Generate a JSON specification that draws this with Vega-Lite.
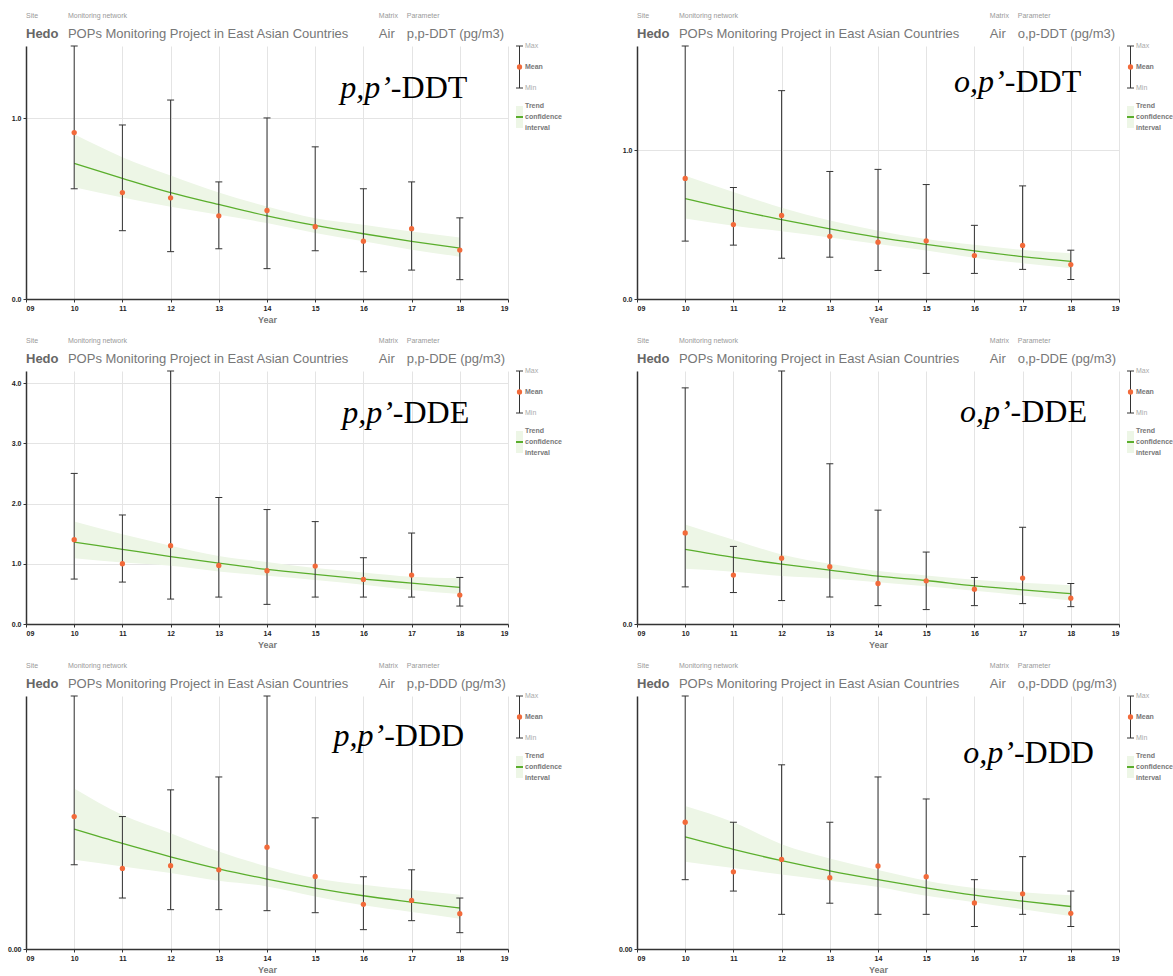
{
"$schema": "https://vega.github.io/schema/vega-lite/v6.json",
"padding": {"left": 7, "top": 12, "right": 0, "bottom": 0},
"background": "white",
"config": {
 "font": "Liberation Sans",
 "view": {"stroke": null},
 "axis": {"labelFontWeight": "bold", "labelFontSize": 7, "labelColor": "#222", "domainColor": "#333", "domainWidth": 1.5, "tickColor": "#333", "tickSize": 3, "gridColor": "#e4e4e4", "gridWidth": 1, "labelPadding": 2},
 "axisX": {"titleFontSize": 9, "titleFontWeight": "bold", "titleColor": "#777", "titlePadding": 4, "labelFlush": true}
},
"datasets": {
 "ppDDT": [
  {"year":10,"min":0.610,"mean":0.921,"max":1.40,"trend":0.751,"lo":0.619,"hi":0.911},
  {"year":11,"min":0.378,"mean":0.589,"max":0.963,"trend":0.668,"lo":0.562,"hi":0.785},
  {"year":12,"min":0.262,"mean":0.560,"max":1.101,"trend":0.589,"lo":0.510,"hi":0.683},
  {"year":13,"min":0.278,"mean":0.460,"max":0.648,"trend":0.523,"lo":0.466,"hi":0.589},
  {"year":14,"min":0.168,"mean":0.490,"max":1.002,"trend":0.460,"lo":0.420,"hi":0.512},
  {"year":15,"min":0.267,"mean":0.400,"max":0.842,"trend":0.407,"lo":0.365,"hi":0.447},
  {"year":16,"min":0.151,"mean":0.320,"max":0.610,"trend":0.361,"lo":0.319,"hi":0.411},
  {"year":17,"min":0.160,"mean":0.389,"max":0.648,"trend":0.319,"lo":0.273,"hi":0.374},
  {"year":18,"min":0.107,"mean":0.271,"max":0.449,"trend":0.282,"lo":0.234,"hi":0.341}
 ],
 "opDDT": [
  {"year":10,"min":0.389,"mean":0.810,"max":1.70,"trend":0.674,"lo":0.541,"hi":0.828},
  {"year":11,"min":0.362,"mean":0.500,"max":0.749,"trend":0.600,"lo":0.493,"hi":0.719},
  {"year":12,"min":0.274,"mean":0.561,"max":1.400,"trend":0.534,"lo":0.455,"hi":0.613},
  {"year":13,"min":0.281,"mean":0.421,"max":0.857,"trend":0.471,"lo":0.414,"hi":0.527},
  {"year":14,"min":0.192,"mean":0.382,"max":0.871,"trend":0.414,"lo":0.369,"hi":0.459},
  {"year":15,"min":0.172,"mean":0.391,"max":0.769,"trend":0.367,"lo":0.326,"hi":0.403},
  {"year":16,"min":0.172,"mean":0.292,"max":0.495,"trend":0.324,"lo":0.278,"hi":0.364},
  {"year":17,"min":0.199,"mean":0.360,"max":0.760,"trend":0.285,"lo":0.240,"hi":0.330},
  {"year":18,"min":0.131,"mean":0.231,"max":0.328,"trend":0.253,"lo":0.206,"hi":0.308}
 ],
 "ppDDE": [
  {"year":10,"min":0.746,"mean":1.40,"max":2.50,"trend":1.36,"lo":1.09,"hi":1.70},
  {"year":11,"min":0.696,"mean":1.00,"max":1.81,"trend":1.24,"lo":1.02,"hi":1.49},
  {"year":12,"min":0.414,"mean":1.30,"max":4.20,"trend":1.12,"lo":0.967,"hi":1.30},
  {"year":13,"min":0.447,"mean":0.972,"max":2.10,"trend":1.01,"lo":0.873,"hi":1.13},
  {"year":14,"min":0.326,"mean":0.884,"max":1.90,"trend":0.906,"lo":0.800,"hi":1.03},
  {"year":15,"min":0.447,"mean":0.961,"max":1.70,"trend":0.823,"lo":0.729,"hi":0.928},
  {"year":16,"min":0.447,"mean":0.740,"max":1.10,"trend":0.746,"lo":0.652,"hi":0.856},
  {"year":17,"min":0.447,"mean":0.812,"max":1.51,"trend":0.680,"lo":0.564,"hi":0.785},
  {"year":18,"min":0.298,"mean":0.481,"max":0.773,"trend":0.608,"lo":0.497,"hi":0.762}
 ],
 "opDDE": [
  {"year":10,"min":0.0440,"mean":0.108,"max":0.280,"trend":0.0885,"lo":0.0655,"hi":0.118},
  {"year":11,"min":0.0373,"mean":0.058,"max":0.092,"trend":0.079,"lo":0.062,"hi":0.100},
  {"year":12,"min":0.0278,"mean":0.078,"max":0.300,"trend":0.071,"lo":0.057,"hi":0.0825},
  {"year":13,"min":0.0320,"mean":0.068,"max":0.190,"trend":0.064,"lo":0.054,"hi":0.0714},
  {"year":14,"min":0.0218,"mean":0.048,"max":0.135,"trend":0.0567,"lo":0.0496,"hi":0.0627},
  {"year":15,"min":0.0171,"mean":0.0512,"max":0.0853,"trend":0.0516,"lo":0.0448,"hi":0.0575},
  {"year":16,"min":0.0218,"mean":0.0413,"max":0.0552,"trend":0.0452,"lo":0.0393,"hi":0.0524},
  {"year":17,"min":0.0242,"mean":0.0544,"max":0.1147,"trend":0.0405,"lo":0.0337,"hi":0.0488},
  {"year":18,"min":0.0206,"mean":0.0306,"max":0.048,"trend":0.0361,"lo":0.0278,"hi":0.046}
 ],
 "ppDDD": [
  {"year":10,"min":0.0666,"mean":0.1047,"max":0.200,"trend":0.0947,"lo":0.0705,"hi":0.1268},
  {"year":11,"min":0.0403,"mean":0.0637,"max":0.1047,"trend":0.0834,"lo":0.0653,"hi":0.106},
  {"year":12,"min":0.0311,"mean":0.0658,"max":0.1258,"trend":0.0729,"lo":0.060,"hi":0.0916},
  {"year":13,"min":0.0311,"mean":0.0626,"max":0.136,"trend":0.0634,"lo":0.0539,"hi":0.0771},
  {"year":14,"min":0.0303,"mean":0.0805,"max":0.200,"trend":0.0553,"lo":0.0495,"hi":0.0653},
  {"year":15,"min":0.0287,"mean":0.0574,"max":0.1037,"trend":0.0482,"lo":0.0416,"hi":0.056},
  {"year":16,"min":0.0153,"mean":0.0353,"max":0.0571,"trend":0.0421,"lo":0.0345,"hi":0.0508},
  {"year":17,"min":0.0224,"mean":0.0384,"max":0.0626,"trend":0.0371,"lo":0.0292,"hi":0.0468},
  {"year":18,"min":0.0129,"mean":0.0279,"max":0.0403,"trend":0.0324,"lo":0.0239,"hi":0.0429}
 ],
 "opDDD": [
  {"year":10,"min":0.0274,"mean":0.0501,"max":0.100,"trend":0.0443,"lo":0.0345,"hi":0.0565},
  {"year":11,"min":0.0229,"mean":0.0305,"max":0.0501,"trend":0.0394,"lo":0.032,"hi":0.0501},
  {"year":12,"min":0.0137,"mean":0.0354,"max":0.0728,"trend":0.0349,"lo":0.0294,"hi":0.0414},
  {"year":13,"min":0.0181,"mean":0.0282,"max":0.0501,"trend":0.0309,"lo":0.0270,"hi":0.0358},
  {"year":14,"min":0.0137,"mean":0.0328,"max":0.068,"trend":0.0274,"lo":0.0245,"hi":0.0312},
  {"year":15,"min":0.0137,"mean":0.0286,"max":0.0593,"trend":0.0242,"lo":0.021,"hi":0.027},
  {"year":16,"min":0.0089,"mean":0.0182,"max":0.0274,"trend":0.0213,"lo":0.0185,"hi":0.0241},
  {"year":17,"min":0.0137,"mean":0.0218,"max":0.0365,"trend":0.0189,"lo":0.0157,"hi":0.0224},
  {"year":18,"min":0.0089,"mean":0.0141,"max":0.0229,"trend":0.0168,"lo":0.0130,"hi":0.0212}
 ]
},
"columns": 4,
"align": "each",
"bounds": "flush",
"spacing": {"row": 72, "column": 4},
"concat": [
  {"width": 482, "height": 253, "data": {"name": "ppDDT"}, "layer": [
   {"mark": {"type": "area", "color": "#edf6e6", "interpolate": "monotone", "opacity": 1},
    "encoding": {"x": {"field": "year", "type": "quantitative", "scale": {"domain": [9, 19], "nice": false, "zero": false}, "axis": {"title": "Year", "values": [9,10,11,12,13,14,15,16,17,18,19], "labelExpr": "datum.value < 10 ? '0' + datum.value : '' + datum.value"}},
     "y": {"field": "lo", "type": "quantitative", "scale": {"domain": [0, 1.4], "nice": false}, "axis": {"title": null, "values": [0, 1], "format": ".1f"}}, "y2": {"field": "hi"}}},
   {"mark": {"type": "line", "color": "#5aae2c", "strokeWidth": 1.3, "interpolate": "monotone"}, "encoding": {"x": {"field": "year", "type": "quantitative"}, "y": {"field": "trend", "type": "quantitative"}}},
   {"mark": {"type": "rule", "color": "#333", "strokeWidth": 1}, "encoding": {"x": {"field": "year", "type": "quantitative"}, "y": {"field": "min", "type": "quantitative"}, "y2": {"field": "max"}}},
   {"mark": {"type": "tick", "orient": "horizontal", "size": 7, "thickness": 1, "color": "#333", "opacity": 1}, "encoding": {"x": {"field": "year", "type": "quantitative"}, "y": {"field": "max", "type": "quantitative"}}},
   {"mark": {"type": "tick", "orient": "horizontal", "size": 7, "thickness": 1, "color": "#333", "opacity": 1}, "encoding": {"x": {"field": "year", "type": "quantitative"}, "y": {"field": "min", "type": "quantitative"}}},
   {"mark": {"type": "point", "filled": true, "color": "#f26a3a", "size": 28, "opacity": 1}, "encoding": {"x": {"field": "year", "type": "quantitative"}, "y": {"field": "mean", "type": "quantitative"}}},
   {"data": {"values": [{}]}, "mark": {"type": "text", "text": "Site", "align": "left", "baseline": "middle", "fontSize": 7, "color": "#999", "yOffset": -30}, "encoding": {"x": {"datum": 9}, "y": {"datum": 1.4}}},
   {"data": {"values": [{}]}, "mark": {"type": "text", "text": "Monitoring network", "align": "left", "baseline": "middle", "fontSize": 7, "color": "#999", "yOffset": -30}, "encoding": {"x": {"datum": 9.87}, "y": {"datum": 1.4}}},
   {"data": {"values": [{}]}, "mark": {"type": "text", "text": "Matrix", "align": "left", "baseline": "middle", "fontSize": 7, "color": "#999", "yOffset": -30}, "encoding": {"x": {"datum": 16.32}, "y": {"datum": 1.4}}},
   {"data": {"values": [{}]}, "mark": {"type": "text", "text": "Parameter", "align": "left", "baseline": "middle", "fontSize": 7, "color": "#999", "yOffset": -30}, "encoding": {"x": {"datum": 16.9}, "y": {"datum": 1.4}}},
   {"data": {"values": [{}]}, "mark": {"type": "text", "text": "Hedo", "align": "left", "baseline": "middle", "fontSize": 13, "fontWeight": "bold", "color": "#666", "yOffset": -12}, "encoding": {"x": {"datum": 9}, "y": {"datum": 1.4}}},
   {"data": {"values": [{}]}, "mark": {"type": "text", "text": "POPs Monitoring Project in East Asian Countries", "align": "left", "baseline": "middle", "fontSize": 13, "color": "#777", "yOffset": -12}, "encoding": {"x": {"datum": 9.87}, "y": {"datum": 1.4}}},
   {"data": {"values": [{}]}, "mark": {"type": "text", "text": "Air", "align": "left", "baseline": "middle", "fontSize": 13, "color": "#777", "yOffset": -12}, "encoding": {"x": {"datum": 16.32}, "y": {"datum": 1.4}}},
   {"data": {"values": [{}]}, "mark": {"type": "text", "text": "p,p-DDT (pg/m3)", "align": "left", "baseline": "middle", "fontSize": 13, "color": "#777", "yOffset": -12}, "encoding": {"x": {"datum": 16.9}, "y": {"datum": 1.4}}},
   {"data": {"values": [{}]}, "mark": {"type": "text", "text": "p,p’", "font": "Liberation Serif", "fontStyle": "italic", "fontSize": 32, "align": "right", "baseline": "alphabetic", "color": "#000", "yOffset": 52}, "encoding": {"x": {"datum": 16.57}, "y": {"datum": 1.4}}},
   {"data": {"values": [{}]}, "mark": {"type": "text", "text": "-DDT", "font": "Liberation Serif", "fontSize": 32, "align": "left", "baseline": "alphabetic", "color": "#000", "yOffset": 52}, "encoding": {"x": {"datum": 16.57}, "y": {"datum": 1.4}}}
  ]},
  {"width": 121, "height": 253, "data": {"values": [{}]}, "layer": [
   {"mark": {"type": "rect", "color": "#edf6e6"}, "encoding": {"x": {"datum": 4, "type": "quantitative", "scale": {"domain": [0, 121], "nice": false, "zero": false}, "axis": null}, "x2": {"datum": 11}, "y": {"datum": 60, "type": "quantitative", "scale": {"domain": [0, 253], "reverse": true, "nice": false}, "axis": null}, "y2": {"datum": 82}}},
   {"mark": {"type": "rule", "color": "#5aae2c", "strokeWidth": 2}, "encoding": {"x": {"datum": 4, "axis": null}, "x2": {"datum": 11}, "y": {"datum": 71, "axis": null}}},
   {"mark": {"type": "rule", "color": "#333"}, "encoding": {"x": {"datum": 7.5, "axis": null}, "y": {"datum": 0, "axis": null}, "y2": {"datum": 42}}},
   {"mark": {"type": "rule", "color": "#333"}, "encoding": {"x": {"datum": 4, "axis": null}, "x2": {"datum": 11}, "y": {"datum": 0, "axis": null}}},
   {"mark": {"type": "rule", "color": "#333"}, "encoding": {"x": {"datum": 4, "axis": null}, "x2": {"datum": 11}, "y": {"datum": 42, "axis": null}}},
   {"mark": {"type": "point", "filled": true, "color": "#f26a3a", "size": 28, "opacity": 1}, "encoding": {"x": {"datum": 7.5, "axis": null}, "y": {"datum": 21, "axis": null}}},
   {"mark": {"type": "text", "text": "Max", "align": "left", "baseline": "middle", "fontSize": 7, "color": "#aaa"}, "encoding": {"x": {"datum": 13, "axis": null}, "y": {"datum": 0, "axis": null}}},
   {"mark": {"type": "text", "text": "Mean", "align": "left", "baseline": "middle", "fontSize": 7, "fontWeight": "bold", "color": "#777"}, "encoding": {"x": {"datum": 13, "axis": null}, "y": {"datum": 21, "axis": null}}},
   {"mark": {"type": "text", "text": "Min", "align": "left", "baseline": "middle", "fontSize": 7, "color": "#aaa"}, "encoding": {"x": {"datum": 13, "axis": null}, "y": {"datum": 42, "axis": null}}},
   {"mark": {"type": "text", "text": "Trend", "align": "left", "baseline": "middle", "fontSize": 7, "fontWeight": "bold", "color": "#777"}, "encoding": {"x": {"datum": 13, "axis": null}, "y": {"datum": 60, "axis": null}}},
   {"mark": {"type": "text", "text": "confidence", "align": "left", "baseline": "middle", "fontSize": 7, "fontWeight": "bold", "color": "#777"}, "encoding": {"x": {"datum": 13, "axis": null}, "y": {"datum": 71, "axis": null}}},
   {"mark": {"type": "text", "text": "interval", "align": "left", "baseline": "middle", "fontSize": 7, "fontWeight": "bold", "color": "#777"}, "encoding": {"x": {"datum": 13, "axis": null}, "y": {"datum": 82, "axis": null}}}
  ]},
  {"width": 482, "height": 253, "data": {"name": "opDDT"}, "layer": [
   {"mark": {"type": "area", "color": "#edf6e6", "interpolate": "monotone", "opacity": 1},
    "encoding": {"x": {"field": "year", "type": "quantitative", "scale": {"domain": [9, 19], "nice": false, "zero": false}, "axis": {"title": "Year", "values": [9,10,11,12,13,14,15,16,17,18,19], "labelExpr": "datum.value < 10 ? '0' + datum.value : '' + datum.value"}},
     "y": {"field": "lo", "type": "quantitative", "scale": {"domain": [0, 1.7], "nice": false}, "axis": {"title": null, "values": [0, 1], "format": ".1f"}}, "y2": {"field": "hi"}}},
   {"mark": {"type": "line", "color": "#5aae2c", "strokeWidth": 1.3, "interpolate": "monotone"}, "encoding": {"x": {"field": "year", "type": "quantitative"}, "y": {"field": "trend", "type": "quantitative"}}},
   {"mark": {"type": "rule", "color": "#333", "strokeWidth": 1}, "encoding": {"x": {"field": "year", "type": "quantitative"}, "y": {"field": "min", "type": "quantitative"}, "y2": {"field": "max"}}},
   {"mark": {"type": "tick", "orient": "horizontal", "size": 7, "thickness": 1, "color": "#333", "opacity": 1}, "encoding": {"x": {"field": "year", "type": "quantitative"}, "y": {"field": "max", "type": "quantitative"}}},
   {"mark": {"type": "tick", "orient": "horizontal", "size": 7, "thickness": 1, "color": "#333", "opacity": 1}, "encoding": {"x": {"field": "year", "type": "quantitative"}, "y": {"field": "min", "type": "quantitative"}}},
   {"mark": {"type": "point", "filled": true, "color": "#f26a3a", "size": 28, "opacity": 1}, "encoding": {"x": {"field": "year", "type": "quantitative"}, "y": {"field": "mean", "type": "quantitative"}}},
   {"data": {"values": [{}]}, "mark": {"type": "text", "text": "Site", "align": "left", "baseline": "middle", "fontSize": 7, "color": "#999", "yOffset": -30}, "encoding": {"x": {"datum": 9}, "y": {"datum": 1.7}}},
   {"data": {"values": [{}]}, "mark": {"type": "text", "text": "Monitoring network", "align": "left", "baseline": "middle", "fontSize": 7, "color": "#999", "yOffset": -30}, "encoding": {"x": {"datum": 9.87}, "y": {"datum": 1.7}}},
   {"data": {"values": [{}]}, "mark": {"type": "text", "text": "Matrix", "align": "left", "baseline": "middle", "fontSize": 7, "color": "#999", "yOffset": -30}, "encoding": {"x": {"datum": 16.32}, "y": {"datum": 1.7}}},
   {"data": {"values": [{}]}, "mark": {"type": "text", "text": "Parameter", "align": "left", "baseline": "middle", "fontSize": 7, "color": "#999", "yOffset": -30}, "encoding": {"x": {"datum": 16.9}, "y": {"datum": 1.7}}},
   {"data": {"values": [{}]}, "mark": {"type": "text", "text": "Hedo", "align": "left", "baseline": "middle", "fontSize": 13, "fontWeight": "bold", "color": "#666", "yOffset": -12}, "encoding": {"x": {"datum": 9}, "y": {"datum": 1.7}}},
   {"data": {"values": [{}]}, "mark": {"type": "text", "text": "POPs Monitoring Project in East Asian Countries", "align": "left", "baseline": "middle", "fontSize": 13, "color": "#777", "yOffset": -12}, "encoding": {"x": {"datum": 9.87}, "y": {"datum": 1.7}}},
   {"data": {"values": [{}]}, "mark": {"type": "text", "text": "Air", "align": "left", "baseline": "middle", "fontSize": 13, "color": "#777", "yOffset": -12}, "encoding": {"x": {"datum": 16.32}, "y": {"datum": 1.7}}},
   {"data": {"values": [{}]}, "mark": {"type": "text", "text": "o,p-DDT (pg/m3)", "align": "left", "baseline": "middle", "fontSize": 13, "color": "#777", "yOffset": -12}, "encoding": {"x": {"datum": 16.9}, "y": {"datum": 1.7}}},
   {"data": {"values": [{}]}, "mark": {"type": "text", "text": "o,p’", "font": "Liberation Serif", "fontStyle": "italic", "fontSize": 32, "align": "right", "baseline": "alphabetic", "color": "#000", "yOffset": 46}, "encoding": {"x": {"datum": 16.63}, "y": {"datum": 1.7}}},
   {"data": {"values": [{}]}, "mark": {"type": "text", "text": "-DDT", "font": "Liberation Serif", "fontSize": 32, "align": "left", "baseline": "alphabetic", "color": "#000", "yOffset": 46}, "encoding": {"x": {"datum": 16.63}, "y": {"datum": 1.7}}}
  ]},
  {"width": 48, "height": 253, "data": {"values": [{}]}, "layer": [
   {"mark": {"type": "rect", "color": "#edf6e6"}, "encoding": {"x": {"datum": 4, "type": "quantitative", "scale": {"domain": [0, 48], "nice": false, "zero": false}, "axis": null}, "x2": {"datum": 11}, "y": {"datum": 60, "type": "quantitative", "scale": {"domain": [0, 253], "reverse": true, "nice": false}, "axis": null}, "y2": {"datum": 82}}},
   {"mark": {"type": "rule", "color": "#5aae2c", "strokeWidth": 2}, "encoding": {"x": {"datum": 4, "axis": null}, "x2": {"datum": 11}, "y": {"datum": 71, "axis": null}}},
   {"mark": {"type": "rule", "color": "#333"}, "encoding": {"x": {"datum": 7.5, "axis": null}, "y": {"datum": 0, "axis": null}, "y2": {"datum": 42}}},
   {"mark": {"type": "rule", "color": "#333"}, "encoding": {"x": {"datum": 4, "axis": null}, "x2": {"datum": 11}, "y": {"datum": 0, "axis": null}}},
   {"mark": {"type": "rule", "color": "#333"}, "encoding": {"x": {"datum": 4, "axis": null}, "x2": {"datum": 11}, "y": {"datum": 42, "axis": null}}},
   {"mark": {"type": "point", "filled": true, "color": "#f26a3a", "size": 28, "opacity": 1}, "encoding": {"x": {"datum": 7.5, "axis": null}, "y": {"datum": 21, "axis": null}}},
   {"mark": {"type": "text", "text": "Max", "align": "left", "baseline": "middle", "fontSize": 7, "color": "#aaa"}, "encoding": {"x": {"datum": 13, "axis": null}, "y": {"datum": 0, "axis": null}}},
   {"mark": {"type": "text", "text": "Mean", "align": "left", "baseline": "middle", "fontSize": 7, "fontWeight": "bold", "color": "#777"}, "encoding": {"x": {"datum": 13, "axis": null}, "y": {"datum": 21, "axis": null}}},
   {"mark": {"type": "text", "text": "Min", "align": "left", "baseline": "middle", "fontSize": 7, "color": "#aaa"}, "encoding": {"x": {"datum": 13, "axis": null}, "y": {"datum": 42, "axis": null}}},
   {"mark": {"type": "text", "text": "Trend", "align": "left", "baseline": "middle", "fontSize": 7, "fontWeight": "bold", "color": "#777"}, "encoding": {"x": {"datum": 13, "axis": null}, "y": {"datum": 60, "axis": null}}},
   {"mark": {"type": "text", "text": "confidence", "align": "left", "baseline": "middle", "fontSize": 7, "fontWeight": "bold", "color": "#777"}, "encoding": {"x": {"datum": 13, "axis": null}, "y": {"datum": 71, "axis": null}}},
   {"mark": {"type": "text", "text": "interval", "align": "left", "baseline": "middle", "fontSize": 7, "fontWeight": "bold", "color": "#777"}, "encoding": {"x": {"datum": 13, "axis": null}, "y": {"datum": 82, "axis": null}}}
  ]},
  {"width": 482, "height": 253, "data": {"name": "ppDDE"}, "layer": [
   {"mark": {"type": "area", "color": "#edf6e6", "interpolate": "monotone", "opacity": 1},
    "encoding": {"x": {"field": "year", "type": "quantitative", "scale": {"domain": [9, 19], "nice": false, "zero": false}, "axis": {"title": "Year", "values": [9,10,11,12,13,14,15,16,17,18,19], "labelExpr": "datum.value < 10 ? '0' + datum.value : '' + datum.value"}},
     "y": {"field": "lo", "type": "quantitative", "scale": {"domain": [0, 4.2], "nice": false}, "axis": {"title": null, "values": [0, 1, 2, 3, 4], "format": ".1f"}}, "y2": {"field": "hi"}}},
   {"mark": {"type": "line", "color": "#5aae2c", "strokeWidth": 1.3, "interpolate": "monotone"}, "encoding": {"x": {"field": "year", "type": "quantitative"}, "y": {"field": "trend", "type": "quantitative"}}},
   {"mark": {"type": "rule", "color": "#333", "strokeWidth": 1}, "encoding": {"x": {"field": "year", "type": "quantitative"}, "y": {"field": "min", "type": "quantitative"}, "y2": {"field": "max"}}},
   {"mark": {"type": "tick", "orient": "horizontal", "size": 7, "thickness": 1, "color": "#333", "opacity": 1}, "encoding": {"x": {"field": "year", "type": "quantitative"}, "y": {"field": "max", "type": "quantitative"}}},
   {"mark": {"type": "tick", "orient": "horizontal", "size": 7, "thickness": 1, "color": "#333", "opacity": 1}, "encoding": {"x": {"field": "year", "type": "quantitative"}, "y": {"field": "min", "type": "quantitative"}}},
   {"mark": {"type": "point", "filled": true, "color": "#f26a3a", "size": 28, "opacity": 1}, "encoding": {"x": {"field": "year", "type": "quantitative"}, "y": {"field": "mean", "type": "quantitative"}}},
   {"data": {"values": [{}]}, "mark": {"type": "text", "text": "Site", "align": "left", "baseline": "middle", "fontSize": 7, "color": "#999", "yOffset": -30}, "encoding": {"x": {"datum": 9}, "y": {"datum": 4.2}}},
   {"data": {"values": [{}]}, "mark": {"type": "text", "text": "Monitoring network", "align": "left", "baseline": "middle", "fontSize": 7, "color": "#999", "yOffset": -30}, "encoding": {"x": {"datum": 9.87}, "y": {"datum": 4.2}}},
   {"data": {"values": [{}]}, "mark": {"type": "text", "text": "Matrix", "align": "left", "baseline": "middle", "fontSize": 7, "color": "#999", "yOffset": -30}, "encoding": {"x": {"datum": 16.32}, "y": {"datum": 4.2}}},
   {"data": {"values": [{}]}, "mark": {"type": "text", "text": "Parameter", "align": "left", "baseline": "middle", "fontSize": 7, "color": "#999", "yOffset": -30}, "encoding": {"x": {"datum": 16.9}, "y": {"datum": 4.2}}},
   {"data": {"values": [{}]}, "mark": {"type": "text", "text": "Hedo", "align": "left", "baseline": "middle", "fontSize": 13, "fontWeight": "bold", "color": "#666", "yOffset": -12}, "encoding": {"x": {"datum": 9}, "y": {"datum": 4.2}}},
   {"data": {"values": [{}]}, "mark": {"type": "text", "text": "POPs Monitoring Project in East Asian Countries", "align": "left", "baseline": "middle", "fontSize": 13, "color": "#777", "yOffset": -12}, "encoding": {"x": {"datum": 9.87}, "y": {"datum": 4.2}}},
   {"data": {"values": [{}]}, "mark": {"type": "text", "text": "Air", "align": "left", "baseline": "middle", "fontSize": 13, "color": "#777", "yOffset": -12}, "encoding": {"x": {"datum": 16.32}, "y": {"datum": 4.2}}},
   {"data": {"values": [{}]}, "mark": {"type": "text", "text": "p,p-DDE (pg/m3)", "align": "left", "baseline": "middle", "fontSize": 13, "color": "#777", "yOffset": -12}, "encoding": {"x": {"datum": 16.9}, "y": {"datum": 4.2}}},
   {"data": {"values": [{}]}, "mark": {"type": "text", "text": "p,p’", "font": "Liberation Serif", "fontStyle": "italic", "fontSize": 32, "align": "right", "baseline": "alphabetic", "color": "#000", "yOffset": 52}, "encoding": {"x": {"datum": 16.61}, "y": {"datum": 4.2}}},
   {"data": {"values": [{}]}, "mark": {"type": "text", "text": "-DDE", "font": "Liberation Serif", "fontSize": 32, "align": "left", "baseline": "alphabetic", "color": "#000", "yOffset": 52}, "encoding": {"x": {"datum": 16.61}, "y": {"datum": 4.2}}}
  ]},
  {"width": 121, "height": 253, "data": {"values": [{}]}, "layer": [
   {"mark": {"type": "rect", "color": "#edf6e6"}, "encoding": {"x": {"datum": 4, "type": "quantitative", "scale": {"domain": [0, 121], "nice": false, "zero": false}, "axis": null}, "x2": {"datum": 11}, "y": {"datum": 60, "type": "quantitative", "scale": {"domain": [0, 253], "reverse": true, "nice": false}, "axis": null}, "y2": {"datum": 82}}},
   {"mark": {"type": "rule", "color": "#5aae2c", "strokeWidth": 2}, "encoding": {"x": {"datum": 4, "axis": null}, "x2": {"datum": 11}, "y": {"datum": 71, "axis": null}}},
   {"mark": {"type": "rule", "color": "#333"}, "encoding": {"x": {"datum": 7.5, "axis": null}, "y": {"datum": 0, "axis": null}, "y2": {"datum": 42}}},
   {"mark": {"type": "rule", "color": "#333"}, "encoding": {"x": {"datum": 4, "axis": null}, "x2": {"datum": 11}, "y": {"datum": 0, "axis": null}}},
   {"mark": {"type": "rule", "color": "#333"}, "encoding": {"x": {"datum": 4, "axis": null}, "x2": {"datum": 11}, "y": {"datum": 42, "axis": null}}},
   {"mark": {"type": "point", "filled": true, "color": "#f26a3a", "size": 28, "opacity": 1}, "encoding": {"x": {"datum": 7.5, "axis": null}, "y": {"datum": 21, "axis": null}}},
   {"mark": {"type": "text", "text": "Max", "align": "left", "baseline": "middle", "fontSize": 7, "color": "#aaa"}, "encoding": {"x": {"datum": 13, "axis": null}, "y": {"datum": 0, "axis": null}}},
   {"mark": {"type": "text", "text": "Mean", "align": "left", "baseline": "middle", "fontSize": 7, "fontWeight": "bold", "color": "#777"}, "encoding": {"x": {"datum": 13, "axis": null}, "y": {"datum": 21, "axis": null}}},
   {"mark": {"type": "text", "text": "Min", "align": "left", "baseline": "middle", "fontSize": 7, "color": "#aaa"}, "encoding": {"x": {"datum": 13, "axis": null}, "y": {"datum": 42, "axis": null}}},
   {"mark": {"type": "text", "text": "Trend", "align": "left", "baseline": "middle", "fontSize": 7, "fontWeight": "bold", "color": "#777"}, "encoding": {"x": {"datum": 13, "axis": null}, "y": {"datum": 60, "axis": null}}},
   {"mark": {"type": "text", "text": "confidence", "align": "left", "baseline": "middle", "fontSize": 7, "fontWeight": "bold", "color": "#777"}, "encoding": {"x": {"datum": 13, "axis": null}, "y": {"datum": 71, "axis": null}}},
   {"mark": {"type": "text", "text": "interval", "align": "left", "baseline": "middle", "fontSize": 7, "fontWeight": "bold", "color": "#777"}, "encoding": {"x": {"datum": 13, "axis": null}, "y": {"datum": 82, "axis": null}}}
  ]},
  {"width": 482, "height": 253, "data": {"name": "opDDE"}, "layer": [
   {"mark": {"type": "area", "color": "#edf6e6", "interpolate": "monotone", "opacity": 1},
    "encoding": {"x": {"field": "year", "type": "quantitative", "scale": {"domain": [9, 19], "nice": false, "zero": false}, "axis": {"title": "Year", "values": [9,10,11,12,13,14,15,16,17,18,19], "labelExpr": "datum.value < 10 ? '0' + datum.value : '' + datum.value"}},
     "y": {"field": "lo", "type": "quantitative", "scale": {"domain": [0, 0.3], "nice": false}, "axis": {"title": null, "values": [0], "format": ".1f"}}, "y2": {"field": "hi"}}},
   {"mark": {"type": "line", "color": "#5aae2c", "strokeWidth": 1.3, "interpolate": "monotone"}, "encoding": {"x": {"field": "year", "type": "quantitative"}, "y": {"field": "trend", "type": "quantitative"}}},
   {"mark": {"type": "rule", "color": "#333", "strokeWidth": 1}, "encoding": {"x": {"field": "year", "type": "quantitative"}, "y": {"field": "min", "type": "quantitative"}, "y2": {"field": "max"}}},
   {"mark": {"type": "tick", "orient": "horizontal", "size": 7, "thickness": 1, "color": "#333", "opacity": 1}, "encoding": {"x": {"field": "year", "type": "quantitative"}, "y": {"field": "max", "type": "quantitative"}}},
   {"mark": {"type": "tick", "orient": "horizontal", "size": 7, "thickness": 1, "color": "#333", "opacity": 1}, "encoding": {"x": {"field": "year", "type": "quantitative"}, "y": {"field": "min", "type": "quantitative"}}},
   {"mark": {"type": "point", "filled": true, "color": "#f26a3a", "size": 28, "opacity": 1}, "encoding": {"x": {"field": "year", "type": "quantitative"}, "y": {"field": "mean", "type": "quantitative"}}},
   {"data": {"values": [{}]}, "mark": {"type": "text", "text": "Site", "align": "left", "baseline": "middle", "fontSize": 7, "color": "#999", "yOffset": -30}, "encoding": {"x": {"datum": 9}, "y": {"datum": 0.3}}},
   {"data": {"values": [{}]}, "mark": {"type": "text", "text": "Monitoring network", "align": "left", "baseline": "middle", "fontSize": 7, "color": "#999", "yOffset": -30}, "encoding": {"x": {"datum": 9.87}, "y": {"datum": 0.3}}},
   {"data": {"values": [{}]}, "mark": {"type": "text", "text": "Matrix", "align": "left", "baseline": "middle", "fontSize": 7, "color": "#999", "yOffset": -30}, "encoding": {"x": {"datum": 16.32}, "y": {"datum": 0.3}}},
   {"data": {"values": [{}]}, "mark": {"type": "text", "text": "Parameter", "align": "left", "baseline": "middle", "fontSize": 7, "color": "#999", "yOffset": -30}, "encoding": {"x": {"datum": 16.9}, "y": {"datum": 0.3}}},
   {"data": {"values": [{}]}, "mark": {"type": "text", "text": "Hedo", "align": "left", "baseline": "middle", "fontSize": 13, "fontWeight": "bold", "color": "#666", "yOffset": -12}, "encoding": {"x": {"datum": 9}, "y": {"datum": 0.3}}},
   {"data": {"values": [{}]}, "mark": {"type": "text", "text": "POPs Monitoring Project in East Asian Countries", "align": "left", "baseline": "middle", "fontSize": 13, "color": "#777", "yOffset": -12}, "encoding": {"x": {"datum": 9.87}, "y": {"datum": 0.3}}},
   {"data": {"values": [{}]}, "mark": {"type": "text", "text": "Air", "align": "left", "baseline": "middle", "fontSize": 13, "color": "#777", "yOffset": -12}, "encoding": {"x": {"datum": 16.32}, "y": {"datum": 0.3}}},
   {"data": {"values": [{}]}, "mark": {"type": "text", "text": "o,p-DDE (pg/m3)", "align": "left", "baseline": "middle", "fontSize": 13, "color": "#777", "yOffset": -12}, "encoding": {"x": {"datum": 16.9}, "y": {"datum": 0.3}}},
   {"data": {"values": [{}]}, "mark": {"type": "text", "text": "o,p’", "font": "Liberation Serif", "fontStyle": "italic", "fontSize": 32, "align": "right", "baseline": "alphabetic", "color": "#000", "yOffset": 51}, "encoding": {"x": {"datum": 16.75}, "y": {"datum": 0.3}}},
   {"data": {"values": [{}]}, "mark": {"type": "text", "text": "-DDE", "font": "Liberation Serif", "fontSize": 32, "align": "left", "baseline": "alphabetic", "color": "#000", "yOffset": 51}, "encoding": {"x": {"datum": 16.75}, "y": {"datum": 0.3}}}
  ]},
  {"width": 48, "height": 253, "data": {"values": [{}]}, "layer": [
   {"mark": {"type": "rect", "color": "#edf6e6"}, "encoding": {"x": {"datum": 4, "type": "quantitative", "scale": {"domain": [0, 48], "nice": false, "zero": false}, "axis": null}, "x2": {"datum": 11}, "y": {"datum": 60, "type": "quantitative", "scale": {"domain": [0, 253], "reverse": true, "nice": false}, "axis": null}, "y2": {"datum": 82}}},
   {"mark": {"type": "rule", "color": "#5aae2c", "strokeWidth": 2}, "encoding": {"x": {"datum": 4, "axis": null}, "x2": {"datum": 11}, "y": {"datum": 71, "axis": null}}},
   {"mark": {"type": "rule", "color": "#333"}, "encoding": {"x": {"datum": 7.5, "axis": null}, "y": {"datum": 0, "axis": null}, "y2": {"datum": 42}}},
   {"mark": {"type": "rule", "color": "#333"}, "encoding": {"x": {"datum": 4, "axis": null}, "x2": {"datum": 11}, "y": {"datum": 0, "axis": null}}},
   {"mark": {"type": "rule", "color": "#333"}, "encoding": {"x": {"datum": 4, "axis": null}, "x2": {"datum": 11}, "y": {"datum": 42, "axis": null}}},
   {"mark": {"type": "point", "filled": true, "color": "#f26a3a", "size": 28, "opacity": 1}, "encoding": {"x": {"datum": 7.5, "axis": null}, "y": {"datum": 21, "axis": null}}},
   {"mark": {"type": "text", "text": "Max", "align": "left", "baseline": "middle", "fontSize": 7, "color": "#aaa"}, "encoding": {"x": {"datum": 13, "axis": null}, "y": {"datum": 0, "axis": null}}},
   {"mark": {"type": "text", "text": "Mean", "align": "left", "baseline": "middle", "fontSize": 7, "fontWeight": "bold", "color": "#777"}, "encoding": {"x": {"datum": 13, "axis": null}, "y": {"datum": 21, "axis": null}}},
   {"mark": {"type": "text", "text": "Min", "align": "left", "baseline": "middle", "fontSize": 7, "color": "#aaa"}, "encoding": {"x": {"datum": 13, "axis": null}, "y": {"datum": 42, "axis": null}}},
   {"mark": {"type": "text", "text": "Trend", "align": "left", "baseline": "middle", "fontSize": 7, "fontWeight": "bold", "color": "#777"}, "encoding": {"x": {"datum": 13, "axis": null}, "y": {"datum": 60, "axis": null}}},
   {"mark": {"type": "text", "text": "confidence", "align": "left", "baseline": "middle", "fontSize": 7, "fontWeight": "bold", "color": "#777"}, "encoding": {"x": {"datum": 13, "axis": null}, "y": {"datum": 71, "axis": null}}},
   {"mark": {"type": "text", "text": "interval", "align": "left", "baseline": "middle", "fontSize": 7, "fontWeight": "bold", "color": "#777"}, "encoding": {"x": {"datum": 13, "axis": null}, "y": {"datum": 82, "axis": null}}}
  ]},
  {"width": 482, "height": 253, "data": {"name": "ppDDD"}, "layer": [
   {"mark": {"type": "area", "color": "#edf6e6", "interpolate": "monotone", "opacity": 1},
    "encoding": {"x": {"field": "year", "type": "quantitative", "scale": {"domain": [9, 19], "nice": false, "zero": false}, "axis": {"title": "Year", "values": [9,10,11,12,13,14,15,16,17,18,19], "labelExpr": "datum.value < 10 ? '0' + datum.value : '' + datum.value"}},
     "y": {"field": "lo", "type": "quantitative", "scale": {"domain": [0, 0.2], "nice": false}, "axis": {"title": null, "values": [0], "format": ".2f"}}, "y2": {"field": "hi"}}},
   {"mark": {"type": "line", "color": "#5aae2c", "strokeWidth": 1.3, "interpolate": "monotone"}, "encoding": {"x": {"field": "year", "type": "quantitative"}, "y": {"field": "trend", "type": "quantitative"}}},
   {"mark": {"type": "rule", "color": "#333", "strokeWidth": 1}, "encoding": {"x": {"field": "year", "type": "quantitative"}, "y": {"field": "min", "type": "quantitative"}, "y2": {"field": "max"}}},
   {"mark": {"type": "tick", "orient": "horizontal", "size": 7, "thickness": 1, "color": "#333", "opacity": 1}, "encoding": {"x": {"field": "year", "type": "quantitative"}, "y": {"field": "max", "type": "quantitative"}}},
   {"mark": {"type": "tick", "orient": "horizontal", "size": 7, "thickness": 1, "color": "#333", "opacity": 1}, "encoding": {"x": {"field": "year", "type": "quantitative"}, "y": {"field": "min", "type": "quantitative"}}},
   {"mark": {"type": "point", "filled": true, "color": "#f26a3a", "size": 28, "opacity": 1}, "encoding": {"x": {"field": "year", "type": "quantitative"}, "y": {"field": "mean", "type": "quantitative"}}},
   {"data": {"values": [{}]}, "mark": {"type": "text", "text": "Site", "align": "left", "baseline": "middle", "fontSize": 7, "color": "#999", "yOffset": -30}, "encoding": {"x": {"datum": 9}, "y": {"datum": 0.2}}},
   {"data": {"values": [{}]}, "mark": {"type": "text", "text": "Monitoring network", "align": "left", "baseline": "middle", "fontSize": 7, "color": "#999", "yOffset": -30}, "encoding": {"x": {"datum": 9.87}, "y": {"datum": 0.2}}},
   {"data": {"values": [{}]}, "mark": {"type": "text", "text": "Matrix", "align": "left", "baseline": "middle", "fontSize": 7, "color": "#999", "yOffset": -30}, "encoding": {"x": {"datum": 16.32}, "y": {"datum": 0.2}}},
   {"data": {"values": [{}]}, "mark": {"type": "text", "text": "Parameter", "align": "left", "baseline": "middle", "fontSize": 7, "color": "#999", "yOffset": -30}, "encoding": {"x": {"datum": 16.9}, "y": {"datum": 0.2}}},
   {"data": {"values": [{}]}, "mark": {"type": "text", "text": "Hedo", "align": "left", "baseline": "middle", "fontSize": 13, "fontWeight": "bold", "color": "#666", "yOffset": -12}, "encoding": {"x": {"datum": 9}, "y": {"datum": 0.2}}},
   {"data": {"values": [{}]}, "mark": {"type": "text", "text": "POPs Monitoring Project in East Asian Countries", "align": "left", "baseline": "middle", "fontSize": 13, "color": "#777", "yOffset": -12}, "encoding": {"x": {"datum": 9.87}, "y": {"datum": 0.2}}},
   {"data": {"values": [{}]}, "mark": {"type": "text", "text": "Air", "align": "left", "baseline": "middle", "fontSize": 13, "color": "#777", "yOffset": -12}, "encoding": {"x": {"datum": 16.32}, "y": {"datum": 0.2}}},
   {"data": {"values": [{}]}, "mark": {"type": "text", "text": "p,p-DDD (pg/m3)", "align": "left", "baseline": "middle", "fontSize": 13, "color": "#777", "yOffset": -12}, "encoding": {"x": {"datum": 16.9}, "y": {"datum": 0.2}}},
   {"data": {"values": [{}]}, "mark": {"type": "text", "text": "p,p’", "font": "Liberation Serif", "fontStyle": "italic", "fontSize": 32, "align": "right", "baseline": "alphabetic", "color": "#000", "yOffset": 50}, "encoding": {"x": {"datum": 16.43}, "y": {"datum": 0.2}}},
   {"data": {"values": [{}]}, "mark": {"type": "text", "text": "-DDD", "font": "Liberation Serif", "fontSize": 32, "align": "left", "baseline": "alphabetic", "color": "#000", "yOffset": 50}, "encoding": {"x": {"datum": 16.43}, "y": {"datum": 0.2}}}
  ]},
  {"width": 121, "height": 253, "data": {"values": [{}]}, "layer": [
   {"mark": {"type": "rect", "color": "#edf6e6"}, "encoding": {"x": {"datum": 4, "type": "quantitative", "scale": {"domain": [0, 121], "nice": false, "zero": false}, "axis": null}, "x2": {"datum": 11}, "y": {"datum": 60, "type": "quantitative", "scale": {"domain": [0, 253], "reverse": true, "nice": false}, "axis": null}, "y2": {"datum": 82}}},
   {"mark": {"type": "rule", "color": "#5aae2c", "strokeWidth": 2}, "encoding": {"x": {"datum": 4, "axis": null}, "x2": {"datum": 11}, "y": {"datum": 71, "axis": null}}},
   {"mark": {"type": "rule", "color": "#333"}, "encoding": {"x": {"datum": 7.5, "axis": null}, "y": {"datum": 0, "axis": null}, "y2": {"datum": 42}}},
   {"mark": {"type": "rule", "color": "#333"}, "encoding": {"x": {"datum": 4, "axis": null}, "x2": {"datum": 11}, "y": {"datum": 0, "axis": null}}},
   {"mark": {"type": "rule", "color": "#333"}, "encoding": {"x": {"datum": 4, "axis": null}, "x2": {"datum": 11}, "y": {"datum": 42, "axis": null}}},
   {"mark": {"type": "point", "filled": true, "color": "#f26a3a", "size": 28, "opacity": 1}, "encoding": {"x": {"datum": 7.5, "axis": null}, "y": {"datum": 21, "axis": null}}},
   {"mark": {"type": "text", "text": "Max", "align": "left", "baseline": "middle", "fontSize": 7, "color": "#aaa"}, "encoding": {"x": {"datum": 13, "axis": null}, "y": {"datum": 0, "axis": null}}},
   {"mark": {"type": "text", "text": "Mean", "align": "left", "baseline": "middle", "fontSize": 7, "fontWeight": "bold", "color": "#777"}, "encoding": {"x": {"datum": 13, "axis": null}, "y": {"datum": 21, "axis": null}}},
   {"mark": {"type": "text", "text": "Min", "align": "left", "baseline": "middle", "fontSize": 7, "color": "#aaa"}, "encoding": {"x": {"datum": 13, "axis": null}, "y": {"datum": 42, "axis": null}}},
   {"mark": {"type": "text", "text": "Trend", "align": "left", "baseline": "middle", "fontSize": 7, "fontWeight": "bold", "color": "#777"}, "encoding": {"x": {"datum": 13, "axis": null}, "y": {"datum": 60, "axis": null}}},
   {"mark": {"type": "text", "text": "confidence", "align": "left", "baseline": "middle", "fontSize": 7, "fontWeight": "bold", "color": "#777"}, "encoding": {"x": {"datum": 13, "axis": null}, "y": {"datum": 71, "axis": null}}},
   {"mark": {"type": "text", "text": "interval", "align": "left", "baseline": "middle", "fontSize": 7, "fontWeight": "bold", "color": "#777"}, "encoding": {"x": {"datum": 13, "axis": null}, "y": {"datum": 82, "axis": null}}}
  ]},
  {"width": 482, "height": 253, "data": {"name": "opDDD"}, "layer": [
   {"mark": {"type": "area", "color": "#edf6e6", "interpolate": "monotone", "opacity": 1},
    "encoding": {"x": {"field": "year", "type": "quantitative", "scale": {"domain": [9, 19], "nice": false, "zero": false}, "axis": {"title": "Year", "values": [9,10,11,12,13,14,15,16,17,18,19], "labelExpr": "datum.value < 10 ? '0' + datum.value : '' + datum.value"}},
     "y": {"field": "lo", "type": "quantitative", "scale": {"domain": [0, 0.1], "nice": false}, "axis": {"title": null, "values": [0], "format": ".2f"}}, "y2": {"field": "hi"}}},
   {"mark": {"type": "line", "color": "#5aae2c", "strokeWidth": 1.3, "interpolate": "monotone"}, "encoding": {"x": {"field": "year", "type": "quantitative"}, "y": {"field": "trend", "type": "quantitative"}}},
   {"mark": {"type": "rule", "color": "#333", "strokeWidth": 1}, "encoding": {"x": {"field": "year", "type": "quantitative"}, "y": {"field": "min", "type": "quantitative"}, "y2": {"field": "max"}}},
   {"mark": {"type": "tick", "orient": "horizontal", "size": 7, "thickness": 1, "color": "#333", "opacity": 1}, "encoding": {"x": {"field": "year", "type": "quantitative"}, "y": {"field": "max", "type": "quantitative"}}},
   {"mark": {"type": "tick", "orient": "horizontal", "size": 7, "thickness": 1, "color": "#333", "opacity": 1}, "encoding": {"x": {"field": "year", "type": "quantitative"}, "y": {"field": "min", "type": "quantitative"}}},
   {"mark": {"type": "point", "filled": true, "color": "#f26a3a", "size": 28, "opacity": 1}, "encoding": {"x": {"field": "year", "type": "quantitative"}, "y": {"field": "mean", "type": "quantitative"}}},
   {"data": {"values": [{}]}, "mark": {"type": "text", "text": "Site", "align": "left", "baseline": "middle", "fontSize": 7, "color": "#999", "yOffset": -30}, "encoding": {"x": {"datum": 9}, "y": {"datum": 0.1}}},
   {"data": {"values": [{}]}, "mark": {"type": "text", "text": "Monitoring network", "align": "left", "baseline": "middle", "fontSize": 7, "color": "#999", "yOffset": -30}, "encoding": {"x": {"datum": 9.87}, "y": {"datum": 0.1}}},
   {"data": {"values": [{}]}, "mark": {"type": "text", "text": "Matrix", "align": "left", "baseline": "middle", "fontSize": 7, "color": "#999", "yOffset": -30}, "encoding": {"x": {"datum": 16.32}, "y": {"datum": 0.1}}},
   {"data": {"values": [{}]}, "mark": {"type": "text", "text": "Parameter", "align": "left", "baseline": "middle", "fontSize": 7, "color": "#999", "yOffset": -30}, "encoding": {"x": {"datum": 16.9}, "y": {"datum": 0.1}}},
   {"data": {"values": [{}]}, "mark": {"type": "text", "text": "Hedo", "align": "left", "baseline": "middle", "fontSize": 13, "fontWeight": "bold", "color": "#666", "yOffset": -12}, "encoding": {"x": {"datum": 9}, "y": {"datum": 0.1}}},
   {"data": {"values": [{}]}, "mark": {"type": "text", "text": "POPs Monitoring Project in East Asian Countries", "align": "left", "baseline": "middle", "fontSize": 13, "color": "#777", "yOffset": -12}, "encoding": {"x": {"datum": 9.87}, "y": {"datum": 0.1}}},
   {"data": {"values": [{}]}, "mark": {"type": "text", "text": "Air", "align": "left", "baseline": "middle", "fontSize": 13, "color": "#777", "yOffset": -12}, "encoding": {"x": {"datum": 16.32}, "y": {"datum": 0.1}}},
   {"data": {"values": [{}]}, "mark": {"type": "text", "text": "o,p-DDD (pg/m3)", "align": "left", "baseline": "middle", "fontSize": 13, "color": "#777", "yOffset": -12}, "encoding": {"x": {"datum": 16.9}, "y": {"datum": 0.1}}},
   {"data": {"values": [{}]}, "mark": {"type": "text", "text": "o,p’", "font": "Liberation Serif", "fontStyle": "italic", "fontSize": 32, "align": "right", "baseline": "alphabetic", "color": "#000", "yOffset": 67}, "encoding": {"x": {"datum": 16.82}, "y": {"datum": 0.1}}},
   {"data": {"values": [{}]}, "mark": {"type": "text", "text": "-DDD", "font": "Liberation Serif", "fontSize": 32, "align": "left", "baseline": "alphabetic", "color": "#000", "yOffset": 67}, "encoding": {"x": {"datum": 16.82}, "y": {"datum": 0.1}}}
  ]},
  {"width": 48, "height": 253, "data": {"values": [{}]}, "layer": [
   {"mark": {"type": "rect", "color": "#edf6e6"}, "encoding": {"x": {"datum": 4, "type": "quantitative", "scale": {"domain": [0, 48], "nice": false, "zero": false}, "axis": null}, "x2": {"datum": 11}, "y": {"datum": 60, "type": "quantitative", "scale": {"domain": [0, 253], "reverse": true, "nice": false}, "axis": null}, "y2": {"datum": 82}}},
   {"mark": {"type": "rule", "color": "#5aae2c", "strokeWidth": 2}, "encoding": {"x": {"datum": 4, "axis": null}, "x2": {"datum": 11}, "y": {"datum": 71, "axis": null}}},
   {"mark": {"type": "rule", "color": "#333"}, "encoding": {"x": {"datum": 7.5, "axis": null}, "y": {"datum": 0, "axis": null}, "y2": {"datum": 42}}},
   {"mark": {"type": "rule", "color": "#333"}, "encoding": {"x": {"datum": 4, "axis": null}, "x2": {"datum": 11}, "y": {"datum": 0, "axis": null}}},
   {"mark": {"type": "rule", "color": "#333"}, "encoding": {"x": {"datum": 4, "axis": null}, "x2": {"datum": 11}, "y": {"datum": 42, "axis": null}}},
   {"mark": {"type": "point", "filled": true, "color": "#f26a3a", "size": 28, "opacity": 1}, "encoding": {"x": {"datum": 7.5, "axis": null}, "y": {"datum": 21, "axis": null}}},
   {"mark": {"type": "text", "text": "Max", "align": "left", "baseline": "middle", "fontSize": 7, "color": "#aaa"}, "encoding": {"x": {"datum": 13, "axis": null}, "y": {"datum": 0, "axis": null}}},
   {"mark": {"type": "text", "text": "Mean", "align": "left", "baseline": "middle", "fontSize": 7, "fontWeight": "bold", "color": "#777"}, "encoding": {"x": {"datum": 13, "axis": null}, "y": {"datum": 21, "axis": null}}},
   {"mark": {"type": "text", "text": "Min", "align": "left", "baseline": "middle", "fontSize": 7, "color": "#aaa"}, "encoding": {"x": {"datum": 13, "axis": null}, "y": {"datum": 42, "axis": null}}},
   {"mark": {"type": "text", "text": "Trend", "align": "left", "baseline": "middle", "fontSize": 7, "fontWeight": "bold", "color": "#777"}, "encoding": {"x": {"datum": 13, "axis": null}, "y": {"datum": 60, "axis": null}}},
   {"mark": {"type": "text", "text": "confidence", "align": "left", "baseline": "middle", "fontSize": 7, "fontWeight": "bold", "color": "#777"}, "encoding": {"x": {"datum": 13, "axis": null}, "y": {"datum": 71, "axis": null}}},
   {"mark": {"type": "text", "text": "interval", "align": "left", "baseline": "middle", "fontSize": 7, "fontWeight": "bold", "color": "#777"}, "encoding": {"x": {"datum": 13, "axis": null}, "y": {"datum": 82, "axis": null}}}
  ]}
]
}
